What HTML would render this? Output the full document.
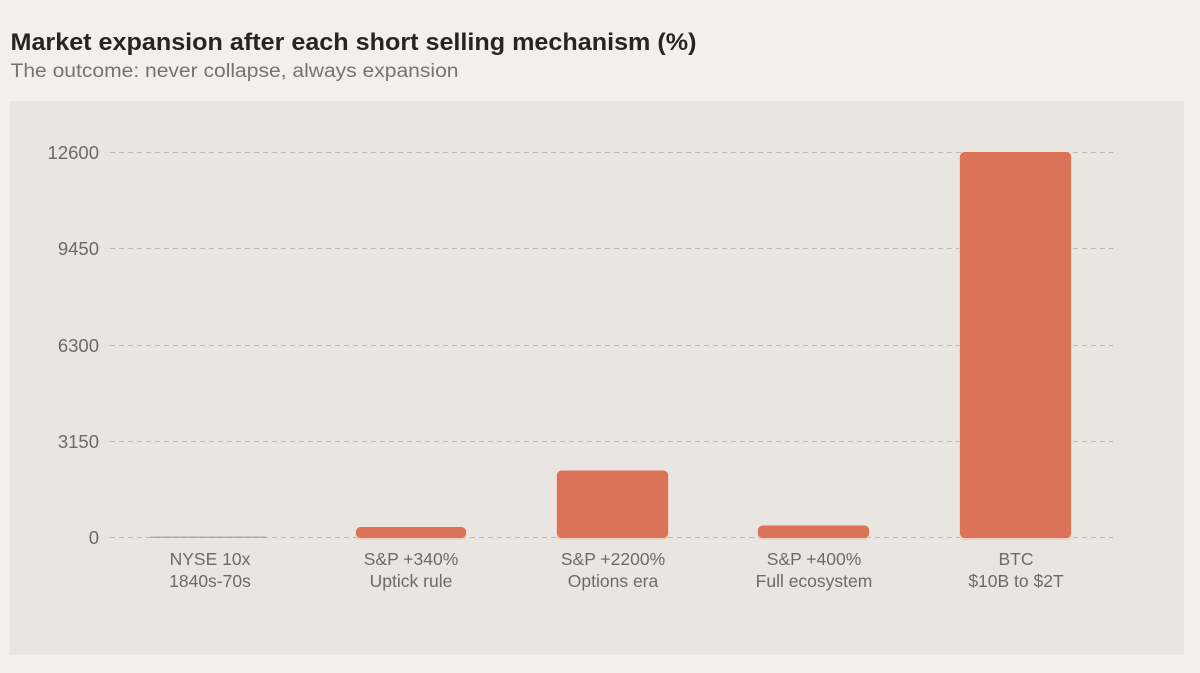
<!DOCTYPE html>
<html><head><meta charset="utf-8"><style>
html,body{margin:0;padding:0;background:#f3f0eb;}
svg{display:block;}
</style></head><body>
<svg width="1200" height="673" viewBox="0 0 1200 673" xmlns="http://www.w3.org/2000/svg" font-family="'Liberation Sans', sans-serif">
<rect x="0" y="0" width="1200" height="673" fill="#f3f0eb"/>
<text x="10.5" y="50" font-size="24" font-weight="bold" fill="#262522" textLength="686" lengthAdjust="spacingAndGlyphs">Market expansion after each short selling mechanism (%)</text>
<text x="10.5" y="77" font-size="19" fill="#77736d" textLength="448" lengthAdjust="spacingAndGlyphs">The outcome: never collapse, always expansion</text>
<rect x="10" y="101" width="1174" height="554" fill="#e9e5e0"/>
<g stroke="#bcb7b1" stroke-width="1" stroke-dasharray="5 4">
<line x1="110" y1="152.5" x2="1113" y2="152.5"/>
<line x1="110" y1="248.5" x2="1113" y2="248.5"/>
<line x1="110" y1="345.5" x2="1113" y2="345.5"/>
<line x1="110" y1="441.5" x2="1113" y2="441.5"/>
<line x1="110" y1="537.5" x2="1113" y2="537.5"/>
</g>
<g font-size="18.5" fill="#6e6a64" text-anchor="end">
<text x="99" y="159">12600</text>
<text x="99" y="255">9450</text>
<text x="99" y="352">6300</text>
<text x="99" y="448">3150</text>
<text x="99" y="544">0</text>
</g>
<g fill="#f0c9b8" opacity="0.7">
<rect x="355" y="528" width="112" height="12" rx="5"/>
<rect x="556" y="471" width="113" height="69" rx="5"/>
<rect x="757" y="526" width="113" height="14" rx="5"/>
<rect x="959" y="153" width="113" height="387" rx="5"/>
</g>
<g fill="#db7359">
<rect x="150" y="536.5" width="116" height="1.5" fill="#a69a93" opacity="0.7"/>
<rect x="356" y="527" width="110" height="11" rx="4.5"/>
<rect x="557" y="470.5" width="111" height="67.5" rx="4.5"/>
<rect x="758" y="525.5" width="111" height="12.5" rx="4.5"/>
<rect x="960" y="152" width="111" height="386" rx="4.5"/>
</g>
<g font-size="17.5" fill="#6e6a64" text-anchor="middle">
<text x="210" y="565">NYSE 10x</text>
<text x="210" y="587">1840s-70s</text>
<text x="411" y="565">S&amp;P +340%</text>
<text x="411" y="587">Uptick rule</text>
<text x="613" y="565">S&amp;P +2200%</text>
<text x="613" y="587">Options era</text>
<text x="814" y="565">S&amp;P +400%</text>
<text x="814" y="587">Full ecosystem</text>
<text x="1016" y="565">BTC</text>
<text x="1016" y="587">$10B to $2T</text>
</g>
</svg>
</body></html>
